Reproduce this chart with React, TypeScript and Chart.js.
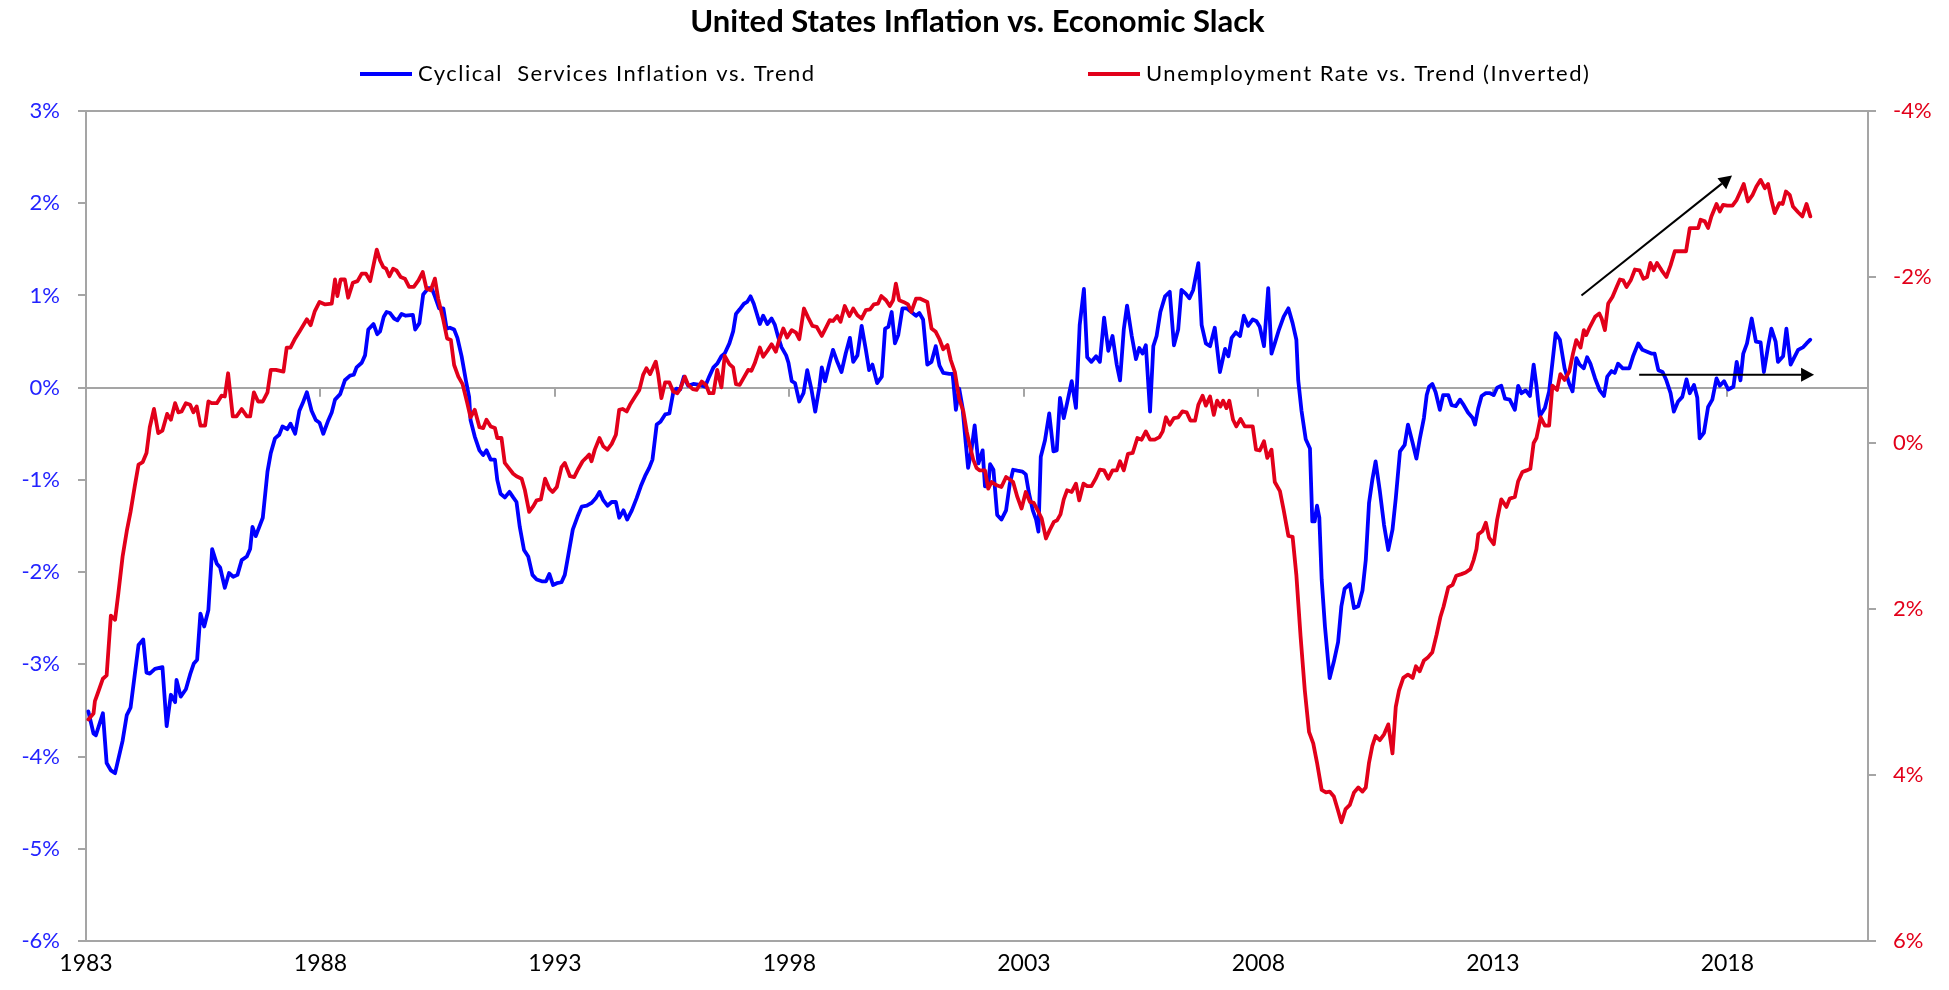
import React, { useEffect, useRef } from "react";
import { Chart, registerables } from "chart.js";

Chart.register(...registerables);

const TITLE = "United States Inflation vs. Economic Slack";
const SERIES_NAMES = ["Cyclical  Services Inflation vs. Trend", "Unemployment Rate vs. Trend (Inverted)"];
const X_TICKS = [1983, 1988, 1993, 1998, 2003, 2008, 2013, 2018];
const X_RANGE = [1983, 2021];
const LEFT_RANGE = [-6, 3];
const RIGHT_RANGE = [-4, 6];

// [decimal year, % vs trend]
const inflationPoints: [number, number][] = [
  [1983.05,-3.51],[1983.16,-3.75],[1983.21,-3.77],[1983.36,-3.53],[1983.44,-4.07],[1983.53,-4.15],[1983.62,-4.18],[1983.78,-3.83],[1983.87,-3.55],[1983.95,-3.47],
  [1984.12,-2.79],[1984.22,-2.73],[1984.29,-3.09],[1984.36,-3.10],[1984.47,-3.05],[1984.63,-3.03],[1984.72,-3.67],[1984.81,-3.33],[1984.90,-3.41],[1984.93,-3.17],
  [1985.02,-3.35],[1985.13,-3.27],[1985.22,-3.11],[1985.30,-2.99],[1985.37,-2.95],[1985.44,-2.45],[1985.52,-2.59],[1985.61,-2.41],[1985.69,-1.75],[1985.79,-1.91],[1985.86,-1.95],[1985.96,-2.17],
  [1986.05,-2.01],[1986.14,-2.05],[1986.23,-2.03],[1986.32,-1.87],[1986.43,-1.83],[1986.50,-1.75],[1986.55,-1.51],[1986.62,-1.61],[1986.77,-1.41],[1986.87,-0.91],[1986.94,-0.71],
  [1987.03,-0.55],[1987.12,-0.51],[1987.19,-0.42],[1987.29,-0.45],[1987.36,-0.39],[1987.46,-0.50],[1987.55,-0.25],[1987.62,-0.17],[1987.71,-0.05],[1987.81,-0.25],[1987.90,-0.35],[1987.98,-0.38],
  [1988.06,-0.50],[1988.17,-0.35],[1988.24,-0.27],[1988.31,-0.13],[1988.42,-0.07],[1988.52,0.08],[1988.63,0.13],[1988.71,0.14],[1988.77,0.22],[1988.88,0.27],[1988.95,0.35],
  [1989.02,0.63],[1989.13,0.69],[1989.21,0.58],[1989.27,0.61],[1989.35,0.77],[1989.41,0.82],[1989.48,0.81],[1989.57,0.75],[1989.64,0.73],[1989.73,0.80],[1989.82,0.78],[1989.97,0.79],
  [1990.02,0.63],[1990.11,0.70],[1990.19,1.01],[1990.30,1.08],[1990.37,1.08],[1990.44,0.99],[1990.53,0.86],[1990.62,0.86],[1990.69,0.64],[1990.76,0.65],[1990.85,0.63],[1990.92,0.54],
  [1991.01,0.34],[1991.10,0.08],[1991.17,-0.10],[1991.20,-0.35],[1991.29,-0.53],[1991.39,-0.68],[1991.47,-0.73],[1991.54,-0.68],[1991.63,-0.78],[1991.72,-0.78],[1991.77,-1.00],[1991.84,-1.15],[1991.93,-1.19],
  [1992.03,-1.13],[1992.11,-1.19],[1992.18,-1.24],[1992.25,-1.51],[1992.34,-1.76],[1992.43,-1.83],[1992.52,-2.03],[1992.61,-2.08],[1992.72,-2.10],[1992.81,-2.10],[1992.88,-2.02],[1992.96,-2.14],
  [1993.04,-2.12],[1993.14,-2.11],[1993.21,-2.03],[1993.28,-1.83],[1993.38,-1.54],[1993.48,-1.40],[1993.57,-1.29],[1993.68,-1.28],[1993.78,-1.25],[1993.87,-1.20],[1993.95,-1.13],
  [1994.03,-1.22],[1994.12,-1.28],[1994.21,-1.24],[1994.30,-1.24],[1994.37,-1.41],[1994.46,-1.33],[1994.54,-1.43],[1994.64,-1.33],[1994.74,-1.20],[1994.83,-1.07],[1994.92,-0.96],
  [1995.01,-0.87],[1995.08,-0.78],[1995.17,-0.40],[1995.25,-0.37],[1995.35,-0.29],[1995.44,-0.28],[1995.52,-0.06],[1995.59,-0.01],[1995.67,-0.02],[1995.75,0.12],[1995.84,0.02],[1995.95,0.04],
  [1996.09,0.03],[1996.20,0.01],[1996.29,0.12],[1996.38,0.22],[1996.46,0.26],[1996.55,0.34],[1996.62,0.37],[1996.72,0.48],[1996.80,0.61],[1996.86,0.80],[1996.94,0.85],
  [1997.03,0.91],[1997.10,0.93],[1997.17,0.99],[1997.24,0.91],[1997.30,0.81],[1997.37,0.69],[1997.44,0.78],[1997.53,0.69],[1997.62,0.75],[1997.69,0.68],[1997.76,0.55],[1997.83,0.44],[1997.93,0.35],[1997.98,0.27],
  [1998.05,0.07],[1998.12,0.05],[1998.21,-0.15],[1998.30,-0.06],[1998.38,0.19],[1998.47,-0.02],[1998.55,-0.26],[1998.64,0.01],[1998.69,0.22],[1998.76,0.07],[1998.85,0.26],[1998.93,0.41],
  [1999.02,0.28],[1999.11,0.17],[1999.20,0.37],[1999.29,0.54],[1999.36,0.28],[1999.45,0.35],[1999.54,0.67],[1999.63,0.41],[1999.70,0.19],[1999.77,0.25],[1999.87,0.05],[1999.97,0.12],
  [2000.04,0.64],[2000.11,0.66],[2000.18,0.82],[2000.25,0.48],[2000.32,0.57],[2000.41,0.86],[2000.50,0.86],[2000.60,0.82],[2000.70,0.78],[2000.77,0.81],[2000.85,0.74],[2000.94,0.25],
  [2001.03,0.28],[2001.12,0.45],[2001.20,0.24],[2001.28,0.16],[2001.41,0.15],[2001.48,0.15],[2001.55,-0.24],[2001.62,-0.01],[2001.69,-0.21],[2001.76,-0.60],[2001.81,-0.87],[2001.88,-0.68],[2001.95,-0.41],
  [2002.03,-0.82],[2002.12,-0.68],[2002.17,-1.07],[2002.24,-1.07],[2002.28,-0.83],[2002.35,-0.89],[2002.43,-1.38],[2002.52,-1.43],[2002.62,-1.33],[2002.70,-1.04],[2002.77,-0.89],[2002.86,-0.90],[2002.97,-0.91],
  [2003.04,-0.94],[2003.11,-1.15],[2003.19,-1.33],[2003.26,-1.43],[2003.31,-1.56],[2003.36,-0.75],[2003.45,-0.57],[2003.54,-0.28],[2003.63,-0.69],[2003.70,-0.68],[2003.77,-0.11],[2003.85,-0.33],[2003.92,-0.17],
  [2004.02,0.07],[2004.11,-0.22],[2004.19,0.68],[2004.28,1.07],[2004.35,0.33],[2004.44,0.28],[2004.54,0.34],[2004.62,0.28],[2004.71,0.76],[2004.80,0.40],[2004.89,0.56],[2004.98,0.25],
  [2005.05,0.08],[2005.13,0.63],[2005.20,0.89],[2005.30,0.56],[2005.39,0.31],[2005.46,0.43],[2005.53,0.37],[2005.60,0.46],[2005.69,-0.26],[2005.76,0.45],[2005.83,0.56],[2005.91,0.82],
  [2006.01,0.99],[2006.11,1.04],[2006.20,0.46],[2006.29,0.63],[2006.36,1.06],[2006.45,1.02],[2006.53,0.97],[2006.61,1.06],[2006.72,1.35],[2006.79,0.68],[2006.88,0.48],[2006.97,0.45],
  [2007.07,0.65],[2007.18,0.17],[2007.29,0.42],[2007.36,0.34],[2007.43,0.54],[2007.52,0.60],[2007.61,0.56],[2007.69,0.78],[2007.78,0.67],[2007.88,0.74],[2007.96,0.72],
  [2008.03,0.66],[2008.12,0.45],[2008.21,1.08],[2008.28,0.37],[2008.35,0.48],[2008.44,0.63],[2008.54,0.77],[2008.64,0.86],[2008.73,0.70],[2008.81,0.52],[2008.85,0.08],[2008.92,-0.25],
  [2009.01,-0.56],[2009.10,-0.66],[2009.15,-1.45],[2009.20,-1.45],[2009.25,-1.28],[2009.30,-1.41],[2009.35,-2.08],[2009.42,-2.59],[2009.52,-3.15],[2009.61,-2.97],[2009.70,-2.76],[2009.77,-2.37],[2009.84,-2.18],[2009.95,-2.13],
  [2010.04,-2.39],[2010.13,-2.37],[2010.22,-2.20],[2010.29,-1.87],[2010.36,-1.25],[2010.43,-1.00],[2010.50,-0.80],[2010.59,-1.12],[2010.68,-1.49],[2010.77,-1.76],[2010.86,-1.54],[2010.93,-1.20],
  [2011.02,-0.69],[2011.12,-0.62],[2011.19,-0.40],[2011.29,-0.60],[2011.37,-0.77],[2011.44,-0.56],[2011.53,-0.33],[2011.59,-0.08],[2011.64,0.01],[2011.71,0.04],[2011.78,-0.05],[2011.87,-0.24],[2011.94,-0.08],
  [2012.05,-0.08],[2012.12,-0.19],[2012.21,-0.20],[2012.30,-0.13],[2012.38,-0.19],[2012.47,-0.27],[2012.57,-0.33],[2012.62,-0.40],[2012.69,-0.22],[2012.76,-0.09],[2012.85,-0.06],[2012.94,-0.06],
  [2013.02,-0.08],[2013.09,0.00],[2013.18,0.02],[2013.26,-0.12],[2013.36,-0.13],[2013.47,-0.24],[2013.54,0.02],[2013.61,-0.06],[2013.70,-0.03],[2013.79,-0.09],[2013.87,0.25],[2013.93,0.02],
  [2014.00,-0.31],[2014.11,-0.22],[2014.20,-0.04],[2014.27,0.27],[2014.34,0.59],[2014.43,0.52],[2014.53,0.21],[2014.63,0.04],[2014.70,-0.04],[2014.78,0.32],[2014.85,0.25],[2014.94,0.21],
  [2015.01,0.33],[2015.08,0.26],[2015.18,0.10],[2015.28,-0.03],[2015.37,-0.09],[2015.44,0.12],[2015.53,0.18],[2015.60,0.16],[2015.67,0.26],[2015.77,0.21],[2015.91,0.21],[2015.99,0.34],
  [2016.10,0.48],[2016.19,0.41],[2016.29,0.39],[2016.38,0.37],[2016.45,0.37],[2016.53,0.19],[2016.62,0.17],[2016.70,0.08],[2016.79,-0.06],[2016.86,-0.26],[2016.95,-0.15],
  [2017.04,-0.10],[2017.13,0.09],[2017.20,-0.06],[2017.29,0.03],[2017.36,-0.11],[2017.41,-0.55],[2017.50,-0.49],[2017.59,-0.21],[2017.68,-0.13],[2017.77,0.10],[2017.84,0.02],[2017.93,0.07],
  [2018.02,-0.02],[2018.13,0.01],[2018.20,0.28],[2018.28,0.08],[2018.34,0.37],[2018.42,0.48],[2018.52,0.75],[2018.61,0.50],[2018.71,0.49],[2018.78,0.17],[2018.87,0.45],[2018.94,0.64],
  [2019.03,0.50],[2019.08,0.28],[2019.19,0.34],[2019.26,0.64],[2019.35,0.25],[2019.42,0.32],[2019.51,0.41],[2019.62,0.44],[2019.69,0.48],[2019.77,0.52],
];

// [decimal year, % vs trend] (plotted on inverted right axis)
const unemploymentPoints: [number, number][] = [
  [1983.05,3.33],[1983.16,3.26],[1983.19,3.11],[1983.26,3.00],[1983.36,2.84],[1983.44,2.80],[1983.53,2.08],[1983.62,2.13],[1983.69,1.81],[1983.78,1.37],[1983.87,1.06],[1983.95,0.83],
  [1984.04,0.52],[1984.12,0.26],[1984.21,0.23],[1984.29,0.12],[1984.36,-0.19],[1984.45,-0.41],[1984.54,-0.12],[1984.63,-0.15],[1984.73,-0.35],[1984.81,-0.28],[1984.90,-0.48],[1984.97,-0.37],
  [1985.04,-0.38],[1985.13,-0.48],[1985.22,-0.46],[1985.29,-0.37],[1985.36,-0.44],[1985.44,-0.21],[1985.54,-0.21],[1985.61,-0.50],[1985.68,-0.48],[1985.79,-0.48],[1985.89,-0.57],[1985.96,-0.56],
  [1986.03,-0.84],[1986.13,-0.32],[1986.21,-0.32],[1986.32,-0.41],[1986.43,-0.32],[1986.50,-0.32],[1986.58,-0.61],[1986.67,-0.50],[1986.77,-0.50],[1986.87,-0.61],[1986.94,-0.88],
  [1987.05,-0.88],[1987.21,-0.86],[1987.28,-1.15],[1987.36,-1.15],[1987.46,-1.26],[1987.56,-1.35],[1987.71,-1.49],[1987.79,-1.42],[1987.88,-1.59],[1987.98,-1.70],
  [1988.10,-1.67],[1988.24,-1.68],[1988.31,-1.97],[1988.36,-1.77],[1988.43,-1.97],[1988.52,-1.97],[1988.59,-1.75],[1988.69,-1.93],[1988.79,-1.95],[1988.88,-2.04],[1988.97,-2.04],
  [1989.06,-1.95],[1989.20,-2.33],[1989.27,-2.20],[1989.34,-2.12],[1989.40,-2.10],[1989.47,-2.01],[1989.55,-2.10],[1989.62,-2.08],[1989.71,-2.00],[1989.80,-1.98],[1989.89,-1.88],[1989.99,-1.88],
  [1990.09,-1.96],[1990.18,-2.06],[1990.26,-1.86],[1990.35,-1.84],[1990.44,-1.98],[1990.51,-1.74],[1990.62,-1.48],[1990.70,-1.26],[1990.78,-1.24],[1990.85,-0.94],[1990.94,-0.80],
  [1991.03,-0.71],[1991.13,-0.48],[1991.20,-0.31],[1991.29,-0.40],[1991.39,-0.19],[1991.47,-0.18],[1991.54,-0.28],[1991.63,-0.20],[1991.72,-0.18],[1991.77,-0.06],[1991.86,-0.06],[1991.93,0.24],
  [1992.00,0.29],[1992.11,0.37],[1992.18,0.40],[1992.29,0.43],[1992.36,0.57],[1992.45,0.83],[1992.54,0.76],[1992.61,0.69],[1992.70,0.68],[1992.79,0.43],[1992.88,0.55],[1992.95,0.59],
  [1993.04,0.53],[1993.14,0.29],[1993.21,0.24],[1993.32,0.40],[1993.41,0.41],[1993.50,0.31],[1993.59,0.22],[1993.68,0.17],[1993.73,0.14],[1993.78,0.22],[1993.85,0.08],[1993.95,-0.06],
  [1994.03,0.04],[1994.12,0.08],[1994.21,0.01],[1994.30,-0.10],[1994.37,-0.40],[1994.44,-0.41],[1994.53,-0.38],[1994.60,-0.46],[1994.71,-0.56],[1994.80,-0.64],[1994.88,-0.82],[1994.95,-0.90],
  [1995.03,-0.83],[1995.10,-0.92],[1995.15,-0.98],[1995.20,-0.83],[1995.27,-0.54],[1995.35,-0.73],[1995.44,-0.73],[1995.52,-0.62],[1995.61,-0.60],[1995.67,-0.65],[1995.77,-0.80],[1995.84,-0.70],[1995.94,-0.65],
  [1996.02,-0.64],[1996.13,-0.74],[1996.22,-0.70],[1996.29,-0.60],[1996.38,-0.60],[1996.46,-0.88],[1996.55,-0.67],[1996.62,-1.05],[1996.72,-0.95],[1996.80,-0.91],[1996.86,-0.71],[1996.94,-0.70],
  [1997.03,-0.79],[1997.12,-0.88],[1997.19,-0.87],[1997.26,-0.96],[1997.37,-1.15],[1997.44,-1.04],[1997.53,-1.11],[1997.62,-1.19],[1997.71,-1.10],[1997.78,-1.24],[1997.87,-1.38],[1997.95,-1.27],
  [1998.05,-1.36],[1998.14,-1.33],[1998.21,-1.25],[1998.31,-1.62],[1998.40,-1.51],[1998.49,-1.41],[1998.58,-1.40],[1998.69,-1.29],[1998.78,-1.39],[1998.86,-1.48],[1998.93,-1.47],
  [1999.02,-1.53],[1999.09,-1.46],[1999.18,-1.65],[1999.28,-1.53],[1999.36,-1.62],[1999.45,-1.54],[1999.54,-1.50],[1999.63,-1.60],[1999.72,-1.61],[1999.80,-1.67],[1999.89,-1.68],[1999.96,-1.77],
  [2000.06,-1.72],[2000.14,-1.65],[2000.21,-1.72],[2000.27,-1.92],[2000.34,-1.72],[2000.43,-1.70],[2000.53,-1.67],[2000.60,-1.58],[2000.70,-1.74],[2000.78,-1.74],[2000.94,-1.70],
  [2001.03,-1.38],[2001.12,-1.34],[2001.20,-1.25],[2001.28,-1.13],[2001.37,-1.18],[2001.44,-1.00],[2001.53,-0.85],[2001.62,-0.53],[2001.71,-0.38],[2001.78,-0.14],[2001.85,0.04],[2001.92,0.20],[2001.99,0.30],
  [2002.06,0.33],[2002.17,0.33],[2002.24,0.55],[2002.31,0.47],[2002.42,0.51],[2002.52,0.53],[2002.62,0.41],[2002.70,0.44],[2002.77,0.47],[2002.86,0.65],[2002.95,0.79],
  [2003.04,0.59],[2003.13,0.71],[2003.21,0.72],[2003.31,0.83],[2003.38,0.91],[2003.47,1.15],[2003.55,1.05],[2003.64,0.95],[2003.71,0.93],[2003.78,0.86],[2003.85,0.68],[2003.92,0.57],
  [2004.02,0.59],[2004.11,0.49],[2004.18,0.69],[2004.27,0.49],[2004.35,0.52],[2004.44,0.52],[2004.53,0.43],[2004.62,0.32],[2004.71,0.33],[2004.80,0.43],[2004.89,0.33],[2004.98,0.33],
  [2005.05,0.22],[2005.13,0.33],[2005.22,0.13],[2005.32,0.12],[2005.42,-0.06],[2005.51,-0.04],[2005.60,-0.14],[2005.69,-0.04],[2005.79,-0.04],[2005.89,-0.07],[2005.96,-0.14],
  [2006.03,-0.31],[2006.11,-0.22],[2006.20,-0.30],[2006.29,-0.31],[2006.38,-0.38],[2006.47,-0.37],[2006.55,-0.27],[2006.65,-0.27],[2006.72,-0.46],[2006.81,-0.57],[2006.88,-0.45],[2006.97,-0.56],
  [2007.05,-0.34],[2007.12,-0.51],[2007.19,-0.44],[2007.25,-0.51],[2007.32,-0.42],[2007.38,-0.51],[2007.46,-0.28],[2007.53,-0.20],[2007.62,-0.29],[2007.71,-0.20],[2007.80,-0.20],[2007.88,-0.20],[2007.95,0.08],
  [2008.03,0.09],[2008.12,-0.02],[2008.19,0.18],[2008.28,0.08],[2008.35,0.47],[2008.46,0.58],[2008.54,0.81],[2008.64,1.12],[2008.73,1.13],[2008.81,1.59],[2008.90,2.33],[2008.99,2.98],
  [2009.08,3.48],[2009.17,3.62],[2009.25,3.85],[2009.35,4.18],[2009.44,4.21],[2009.52,4.20],[2009.61,4.26],[2009.70,4.43],[2009.77,4.57],[2009.86,4.41],[2009.95,4.36],
  [2010.04,4.21],[2010.13,4.15],[2010.22,4.20],[2010.29,4.15],[2010.36,3.85],[2010.43,3.65],[2010.50,3.53],[2010.59,3.58],[2010.68,3.51],[2010.77,3.39],[2010.86,3.74],[2010.93,3.18],
  [2011.00,2.98],[2011.09,2.83],[2011.19,2.79],[2011.29,2.83],[2011.36,2.69],[2011.44,2.75],[2011.53,2.62],[2011.62,2.58],[2011.71,2.52],[2011.80,2.31],[2011.88,2.10],[2011.95,1.97],
  [2012.05,1.74],[2012.14,1.71],[2012.22,1.60],[2012.33,1.58],[2012.42,1.56],[2012.52,1.52],[2012.59,1.41],[2012.65,1.28],[2012.69,1.10],[2012.78,1.06],[2012.85,0.96],[2012.92,1.14],
  [2013.02,1.22],[2013.09,0.93],[2013.18,0.68],[2013.29,0.77],[2013.36,0.67],[2013.47,0.65],[2013.54,0.46],[2013.63,0.35],[2013.72,0.33],[2013.80,0.31],[2013.87,0.00],[2013.93,-0.06],
  [2014.02,-0.31],[2014.11,-0.21],[2014.20,-0.21],[2014.27,-0.69],[2014.37,-0.64],[2014.44,-0.83],[2014.53,-0.76],[2014.63,-0.86],[2014.71,-1.08],[2014.78,-1.24],[2014.87,-1.15],[2014.94,-1.36],[2014.99,-1.30],
  [2015.07,-1.40],[2015.18,-1.52],[2015.27,-1.56],[2015.32,-1.50],[2015.39,-1.36],[2015.46,-1.68],[2015.55,-1.76],[2015.64,-1.88],[2015.71,-1.97],[2015.78,-1.96],[2015.85,-1.88],[2015.94,-1.96],
  [2016.03,-2.09],[2016.13,-2.08],[2016.21,-1.98],[2016.29,-2.00],[2016.36,-2.17],[2016.43,-2.08],[2016.50,-2.17],[2016.60,-2.08],[2016.70,-2.00],[2016.79,-2.14],[2016.88,-2.31],[2016.99,-2.31],
  [2017.12,-2.31],[2017.20,-2.59],[2017.31,-2.59],[2017.38,-2.59],[2017.43,-2.69],[2017.52,-2.67],[2017.59,-2.59],[2017.66,-2.73],[2017.77,-2.88],[2017.84,-2.79],[2017.91,-2.87],
  [2018.00,-2.86],[2018.11,-2.86],[2018.20,-2.93],[2018.28,-3.03],[2018.35,-3.12],[2018.44,-2.91],[2018.54,-2.99],[2018.62,-3.09],[2018.71,-3.17],[2018.80,-3.07],[2018.87,-3.12],[2018.94,-2.93],
  [2019.01,-2.77],[2019.11,-2.89],[2019.18,-2.88],[2019.25,-3.03],[2019.33,-2.99],[2019.40,-2.85],[2019.51,-2.78],[2019.60,-2.73],[2019.69,-2.88],[2019.77,-2.73],
];

// annotation arrows: [year, left-axis value] start -> end
const ARROW_RISING: [number, number][] = [[2014.89, 1.0], [2018.10, 2.3]];
const ARROW_FLAT: [number, number][] = [[2016.12, 0.14], [2019.85, 0.14]];

const FONT = "Lato, 'Open Sans', sans-serif";
const BLUE = "#0000ff";
const BLUE_TEXT = "#2323ff";
const RED = "#e2001a";
const GRAY = "#a5a5a5";

function drawArrow(ctx: CanvasRenderingContext2D, x1: number, y1: number, x2: number, y2: number) {
  const head = 13;
  const half = 7;
  const a = Math.atan2(y2 - y1, x2 - x1);
  const bx = x2 - head * Math.cos(a);
  const by = y2 - head * Math.sin(a);
  ctx.beginPath();
  ctx.moveTo(x1, y1);
  ctx.lineTo(bx, by);
  ctx.stroke();
  ctx.beginPath();
  ctx.moveTo(x2, y2);
  ctx.lineTo(bx + half * Math.sin(a), by - half * Math.cos(a));
  ctx.lineTo(bx - half * Math.sin(a), by + half * Math.cos(a));
  ctx.closePath();
  ctx.fill();
}

const decorPlugin = {
  id: "decor",
  beforeDraw(chart: any) {
    const { ctx, width, height } = chart;
    ctx.save();
    ctx.fillStyle = "#ffffff";
    ctx.fillRect(0, 0, width, height);
    ctx.restore();
  },
  beforeDatasetsDraw(chart: any) {
    const { ctx } = chart;
    const xs = chart.scales.x;
    const y0 = chart.scales.y.getPixelForValue(0);
    ctx.save();
    ctx.strokeStyle = GRAY;
    ctx.lineWidth = 2;
    X_TICKS.forEach((v) => {
      const px = Math.round(xs.getPixelForValue(v));
      ctx.beginPath();
      ctx.moveTo(px, y0);
      ctx.lineTo(px, y0 + 9);
      ctx.stroke();
    });
    ctx.restore();
  },
  afterDatasetsDraw(chart: any) {
    const { ctx } = chart;
    const xs = chart.scales.x;
    const ys = chart.scales.y;
    ctx.save();
    ctx.strokeStyle = "#000000";
    ctx.fillStyle = "#000000";
    ctx.lineWidth = 2;
    [ARROW_RISING, ARROW_FLAT].forEach((arr) => {
      drawArrow(
        ctx,
        xs.getPixelForValue(arr[0][0]), ys.getPixelForValue(arr[0][1]),
        xs.getPixelForValue(arr[1][0]), ys.getPixelForValue(arr[1][1])
      );
    });
    ctx.restore();
  },
  afterDraw(chart: any) {
    const { ctx, width } = chart;
    ctx.save();
    ctx.fillStyle = "#000000";
    ctx.textAlign = "center";
    ctx.textBaseline = "alphabetic";
    ctx.font = `bold 31px ${FONT}`;
    ctx.fillText(TITLE, width / 2 + 3, 32);

    ctx.font = `22px ${FONT}`;
    ctx.textAlign = "left";
    (ctx as any).letterSpacing = "1.5px";
    const items = [
      { name: SERIES_NAMES[0], color: BLUE, x: 360 },
      { name: SERIES_NAMES[1], color: RED, x: 1088 },
    ];
    items.forEach((it) => {
      ctx.strokeStyle = it.color;
      ctx.lineWidth = 4;
      ctx.beginPath();
      ctx.moveTo(it.x, 74);
      ctx.lineTo(it.x + 52, 74);
      ctx.stroke();
      ctx.fillStyle = "#000000";
      ctx.fillText(it.name, it.x + 58, 81);
    });
    (ctx as any).letterSpacing = "0px";
    ctx.restore();
  },
};

export default function App() {
  const ref = useRef<HTMLCanvasElement | null>(null);

  useEffect(() => {
    document.body.style.margin = "0";
    document.body.style.overflow = "hidden";
    const canvas = ref.current;
    if (!canvas) return;

    const tickFont = { family: FONT, size: 22 };
    const chart = new Chart(canvas, {
      type: "line",
      data: {
        datasets: [
          {
            label: SERIES_NAMES[1],
            data: unemploymentPoints.map(([x, y]) => ({ x, y })),
            yAxisID: "y2",
            borderColor: RED,
            backgroundColor: RED,
            borderWidth: 3.8,
            pointRadius: 0,
            tension: 0,
            borderJoinStyle: "round",
            borderCapStyle: "round",
            order: 1,
          },
          {
            label: SERIES_NAMES[0],
            data: inflationPoints.map(([x, y]) => ({ x, y })),
            yAxisID: "y",
            borderColor: BLUE,
            backgroundColor: BLUE,
            borderWidth: 3.8,
            pointRadius: 0,
            tension: 0,
            borderJoinStyle: "round",
            borderCapStyle: "round",
            order: 2,
          },
        ],
      },
      options: {
        responsive: false,
        animation: false,
        devicePixelRatio: 1,
        layout: { padding: { top: 111, left: 0, right: 0, bottom: 0 } },
        plugins: {
          legend: { display: false },
          title: { display: false },
          tooltip: { enabled: false },
        },
        scales: {
          x: {
            type: "linear",
            position: "bottom",
            min: X_RANGE[0],
            max: X_RANGE[1],
            afterBuildTicks: (s: any) => {
              s.ticks = X_TICKS.map((v) => ({ value: v }));
            },
            afterFit: (s: any) => {
              s.height = 49;
            },
            grid: { display: false, drawTicks: false },
            border: { display: false },
            ticks: {
              callback: (v: any) => String(v),
              font: { family: FONT, size: 23 },
              color: "#000000",
              padding: 9,
              maxRotation: 0,
              autoSkip: false,
            },
          },
          y: {
            position: "left",
            min: LEFT_RANGE[0],
            max: LEFT_RANGE[1],
            afterFit: (s: any) => {
              s.width = 86;
            },
            ticks: {
              stepSize: 1,
              callback: (v: any) => `${v}%`,
              font: tickFont,
              color: BLUE_TEXT,
              padding: 18,
            },
            grid: {
              color: (c: any) => (c.tick && [3, 0, -6].includes(c.tick.value) ? GRAY : "rgba(0,0,0,0)"),
              lineWidth: 2,
              drawTicks: true,
              tickLength: 8,
              tickColor: GRAY,
              tickWidth: 2,
            },
            border: { display: true, color: GRAY, width: 2 },
          },
          y2: {
            position: "right",
            min: RIGHT_RANGE[0],
            max: RIGHT_RANGE[1],
            reverse: true,
            afterFit: (s: any) => {
              s.width = 81;
            },
            ticks: {
              stepSize: 2,
              callback: (v: any) => `${v}%`,
              font: tickFont,
              color: RED,
              padding: 17,
            },
            grid: {
              drawOnChartArea: false,
              drawTicks: true,
              tickLength: 8,
              tickColor: GRAY,
              tickWidth: 2,
              lineWidth: 2,
            },
            border: { display: true, color: GRAY, width: 2 },
          },
        },
      },
      plugins: [decorPlugin],
    } as any);

    const fonts: any = (document as any).fonts;
    if (fonts && fonts.load) {
      Promise.all([fonts.load(`22px Lato`), fonts.load(`bold 31px Lato`)])
        .then(() => chart.update())
        .catch(() => {});
    }

    return () => {
      chart.destroy();
    };
  }, []);

  return (
    <div style={{ width: 1949, height: 990 }}>
      <canvas ref={ref} width={1949} height={990} style={{ display: "block", width: 1949, height: 990 }} />
    </div>
  );
}
